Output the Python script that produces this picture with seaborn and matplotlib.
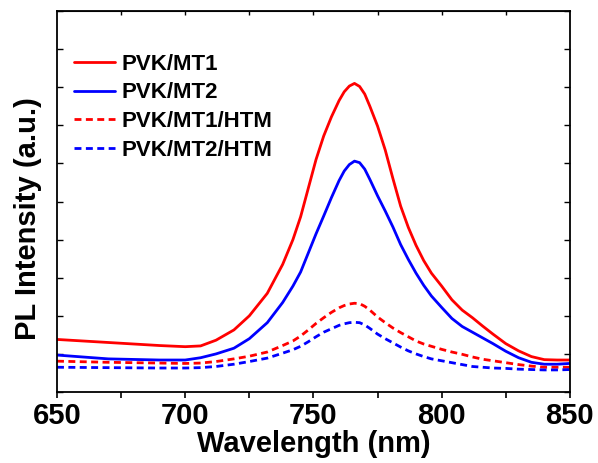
import numpy as np
import pandas as pd
import matplotlib
matplotlib.use("Agg")
import matplotlib.pyplot as plt
import seaborn as sns

# ---------------------------------------------------------------------------
# Data
# ---------------------------------------------------------------------------
wavelength = [650, 670, 690, 700, 706, 712, 719, 725, 732, 738, 742,
              745, 748, 751, 754, 757, 760, 762, 764, 766, 768, 770, 772,
              775, 778, 781, 784, 787, 790, 793, 796,
              800, 804, 808, 812, 816, 820, 825, 830, 835, 840, 845, 850]

pvk_mt1 = [1.38, 1.30, 1.22, 1.19, 1.21, 1.36, 1.63, 2.00, 2.59, 3.35, 4.00,
           4.60, 5.35, 6.10, 6.72, 7.22, 7.65, 7.88, 8.03, 8.10, 8.02, 7.82, 7.50,
           6.98, 6.35, 5.60, 4.88, 4.32, 3.85, 3.45, 3.12,
           2.78, 2.42, 2.15, 1.95, 1.73, 1.52, 1.27, 1.08, 0.93, 0.85, 0.84, 0.84]

pvk_mt2 = [0.97, 0.87, 0.84, 0.84, 0.90, 1.00, 1.15, 1.40, 1.82, 2.35, 2.78,
           3.15, 3.65, 4.15, 4.62, 5.10, 5.55, 5.80, 5.97, 6.06, 6.02, 5.85, 5.58,
           5.15, 4.75, 4.33, 3.87, 3.48, 3.12, 2.80, 2.52,
           2.22, 1.93, 1.72, 1.57, 1.42, 1.27, 1.07, 0.90, 0.78, 0.73, 0.73, 0.75]

pvk_mt1_htm = [0.81, 0.78, 0.76, 0.75, 0.76, 0.80, 0.87, 0.94, 1.05, 1.22, 1.34,
               1.47, 1.63, 1.80, 1.95, 2.09, 2.21, 2.27, 2.31, 2.33, 2.32, 2.25, 2.15,
               1.97, 1.82, 1.68, 1.56, 1.45, 1.34, 1.26, 1.20,
               1.12, 1.05, 0.99, 0.92, 0.86, 0.82, 0.77, 0.72, 0.68, 0.65, 0.65, 0.65]

pvk_mt2_htm = [0.65, 0.64, 0.63, 0.63, 0.64, 0.67, 0.73, 0.80, 0.89, 1.02, 1.11,
               1.20, 1.32, 1.45, 1.57, 1.66, 1.75, 1.79, 1.82, 1.83, 1.82, 1.76, 1.67,
               1.52, 1.40, 1.29, 1.18, 1.08, 1.00, 0.93, 0.87,
               0.82, 0.77, 0.72, 0.67, 0.65, 0.63, 0.62, 0.60, 0.59, 0.58, 0.58, 0.59]

series_names = ["PVK/MT1", "PVK/MT2", "PVK/MT1/HTM", "PVK/MT2/HTM"]
series_values = [pvk_mt1, pvk_mt2, pvk_mt1_htm, pvk_mt2_htm]
colors = ["#ff0000", "#0000ff", "#ff0000", "#0000ff"]
styles = ["-", "-", (0, (2.5, 1.6)), (0, (2.5, 1.6))]

x_ticks = [650, 700, 750, 800, 850]

# ---------------------------------------------------------------------------
# Plot
# ---------------------------------------------------------------------------
sns.set_style("ticks")
plt.rcParams["font.family"] = ["Liberation Sans", "DejaVu Sans"]
plt.rcParams["font.weight"] = "bold"
plt.rcParams["text.color"] = "black"
plt.rcParams["axes.labelcolor"] = "black"
plt.rcParams["xtick.color"] = "black"
plt.rcParams["ytick.color"] = "black"

fig = plt.figure(figsize=(5.98, 4.63), dpi=100)
ax = fig.add_axes([0.0953, 0.1533, 0.8577, 0.8229])

df = pd.DataFrame({"Wavelength": wavelength})
for name, vals in zip(series_names, series_values):
    df[name] = vals

for name, color, ls in zip(series_names, colors, styles):
    sns.lineplot(x="Wavelength", y=name, data=df, ax=ax, color=color,
                 linestyle=ls, linewidth=2.0, label=name)

ax.set_xlim(650, 850)
ax.set_ylim(0, 10)
ax.set_xticks(x_ticks)
ax.set_xticks(np.arange(675, 850, 50), minor=True)
ax.set_yticks(np.arange(0, 11, 1))
ax.set_yticklabels([])

for side in ["left", "right", "top", "bottom"]:
    ax.spines[side].set_linewidth(1.3)
    ax.spines[side].set_color("black")

ax.tick_params(axis="x", which="both", direction="out", length=4, width=1.2,
               labelsize=21, pad=3, colors="black")
ax.tick_params(axis="y", which="both", direction="in", length=4, width=1.0,
               right=True, left=True, colors="black")
top = ax.secondary_xaxis("top")
top.set_xticks(np.arange(675, 850, 25), labels=[])
top.tick_params(direction="in", length=3, width=1.0, colors="black")
for t in ax.get_xticklabels():
    t.set_fontweight("bold")

ax.set_xlabel("Wavelength (nm)", fontsize=21, fontweight="bold", labelpad=0,
              color="black")
ax.set_ylabel("PL Intensity (a.u.)", fontsize=21, fontweight="bold",
              color="black")
ax.yaxis.set_label_coords(-0.03, 0.454)

leg = ax.legend(loc="upper left", bbox_to_anchor=(-0.006, 0.94), frameon=False,
                handlelength=1.85, handletextpad=0.3, labelspacing=0.34,
                prop={"weight": "bold", "size": 16})
for t in leg.get_texts():
    t.set_color("black")

fig.savefig("out.png", dpi=100)
